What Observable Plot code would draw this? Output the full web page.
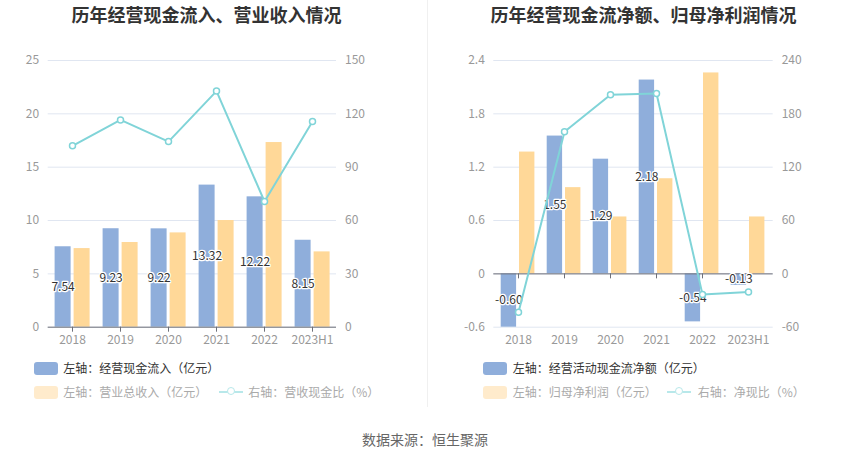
<!DOCTYPE html>
<html>
<head>
<meta charset="utf-8">
<script src="https://cdn.jsdelivr.net/npm/d3@7"></script>
<script src="https://cdn.jsdelivr.net/npm/@observablehq/plot@0.6"></script>
<style>
  html, body { margin: 0; padding: 0; background: #fff; }
  body { width: 850px; height: 459px; position: relative; overflow: hidden;
         font-family: "Noto Sans CJK SC", "Noto Sans", sans-serif; }
  .abs { position: absolute; }
  .title { font-size: 18px; font-weight: bold; color: #333; white-space: nowrap;
           transform: translate(-50%, -50%); top: 14px; }
  .chart svg { display: block; }
  .lg-text { font-size: 12px; white-space: nowrap; transform: translateY(-50%); line-height: 1; }
  .lg-rect { width: 24px; height: 13px; border-radius: 3px; }
</style>
</head>
<body>
<script>
// ---------- data ----------
const categories = ["2018", "2019", "2020", "2021", "2022", "2023H1"];

// Left chart
const cashInflow = [7.54, 9.23, 9.22, 13.32, 12.22, 8.15];      // 经营现金流入 (亿元)
const revenue = [7.37, 7.94, 8.84, 10.0, 17.31, 7.06];          // 营业总收入 (亿元)
const cashRevenueRatio = [102.0, 116.6, 104.4, 132.8, 70.7, 115.7]; // 营收现金比 (%)
const leftTicksL = [0, 5, 10, 15, 20, 25];
const leftTicksR = [0, 30, 60, 90, 120, 150];

// Right chart
const netCashFlow = [-0.60, 1.55, 1.29, 2.18, -0.54, -0.13];    // 经营活动现金流净额 (亿元)
const netProfit = [1.37, 0.97, 0.64, 1.07, 2.26, 0.64];         // 归母净利润 (亿元)
const netCashRatio = [-43.1, 159.8, 201.4, 202.9, -23.3, -20.3]; // 净现比 (%)
const rightTicksL = [-0.6, 0, 0.6, 1.2, 1.8, 2.4];
const rightTicksR = [-60, 0, 60, 120, 180, 240];

// ---------- styles ----------
const BLUE = "#8FAEDB", ORANGE = "#FFD898", TEAL = "#80D4D8";
const GRID = "#E0E6F1", AXIS = "#6E7079", LABEL = "#999";
const FONT = '"Noto Sans CJK SC", "Noto Sans", sans-serif';

const leftData = categories.map((c, i) => ({cat: c, a: cashInflow[i], b: revenue[i], r: cashRevenueRatio[i]}));
const rightData = categories.map((c, i) => ({cat: c, a: netCashFlow[i], b: netProfit[i], r: netCashRatio[i]}));

function fmt(v) { return String(v); }

function barChart(data, opts) {
  return Plot.plot({
    width: 425, height: 350,
    marginTop: 60, marginBottom: 23.3,
    marginLeft: opts.ml, marginRight: opts.mr,
    style: {fontFamily: FONT, background: "transparent", overflow: "visible"},
    x: {type: "band", domain: categories, padding: 0, axis: null},
    y: {domain: opts.yDomain, axis: null},
    marks: [
      Plot.ruleY(opts.ticks, {stroke: GRID, strokeWidth: 1}),
      Plot.axisY(opts.ticks, {anchor: "left", tickSize: 0, tickPadding: 9, fontSize: 12,
        color: LABEL, tickFormat: fmt, label: null}),
      Plot.axisX({anchor: "bottom", tickSize: 0, tickPadding: 8.5, fontSize: 12,
        color: LABEL, label: null}),
      Plot.barY(data, {x: "cat", y: "a", fill: BLUE, insetLeft: opts.aL, insetRight: opts.aR}),
      Plot.barY(data, {x: "cat", y: "b", fill: ORANGE, insetLeft: opts.bL, insetRight: opts.bR}),
      Plot.ruleY([0], {stroke: AXIS, strokeWidth: 1}),
      Plot.ruleX(data, {x: "cat", y1: () => 0, y2: () => 0, insetBottom: -5, stroke: AXIS}),
      Plot.text(data, {x: "cat", y: d => d.a / 2, text: d => d.a.toFixed(2), dx: opts.labDx,
        fill: "#333", stroke: "white", strokeWidth: 2.5, fontSize: 12, paintOrder: "stroke"})
    ]
  });
}

function lineChart(data, opts) {
  return Plot.plot({
    width: 425, height: 350,
    marginTop: 60, marginBottom: 23.3,
    marginLeft: opts.ml, marginRight: opts.mr,
    style: {fontFamily: FONT, background: "transparent", overflow: "visible"},
    x: {type: "band", domain: categories, padding: 0, axis: null},
    y: {domain: opts.yDomain, axis: null},
    marks: [
      Plot.axisY(opts.ticks, {anchor: "right", tickSize: 0, tickPadding: 8.5, fontSize: 12,
        color: LABEL, tickFormat: fmt, label: null}),
      Plot.lineY(data, {x: "cat", y: "r", stroke: TEAL, strokeWidth: 2}),
      Plot.dot(data, {x: "cat", y: "r", r: 3, fill: "white", stroke: TEAL, strokeWidth: 1.5})
    ]
  });
}

function addDiv(cls, styleObj, html) {
  const d = document.createElement("div");
  d.className = cls;
  Object.assign(d.style, styleObj);
  if (html !== undefined) d.innerHTML = html;
  document.body.appendChild(d);
  return d;
}

// separator
addDiv("abs", {left: "427px", top: "0px", width: "1px", height: "407px", background: "#F0F0F0"});

// titles
addDiv("abs title", {left: "206.5px"}, "历年经营现金流入、营业收入情况");
addDiv("abs title", {left: "643.5px"}, "历年经营现金流净额、归母净利润情况");

// left chart
const L1 = addDiv("abs chart", {left: "0px", top: "0px"});
L1.appendChild(barChart(leftData, {ml: 47.7, mr: 89, yDomain: [0, 25], ticks: leftTicksL,
  aL: 6.6, aR: 25.4, bL: 25.6, bR: 6.4, labDx: -9.4}));
const L2 = addDiv("abs chart", {left: "0px", top: "0px"});
L2.appendChild(lineChart(leftData, {ml: 47.7, mr: 89, yDomain: [0, 150], ticks: leftTicksR}));

// right chart
const R1 = addDiv("abs chart", {left: "425px", top: "0px"});
R1.appendChild(barChart(rightData, {ml: 68.3, mr: 77.3, yDomain: [-0.6, 2.4], ticks: rightTicksL,
  aL: 5.7, aR: 24.9, bL: 24.0, bR: 6.6, labDx: -9.7}));
const R2 = addDiv("abs chart", {left: "425px", top: "0px"});
R2.appendChild(lineChart(rightData, {ml: 68.3, mr: 77.3, yDomain: [-60, 240], ticks: rightTicksR}));

// legends
function legendRect(x, y, color) {
  addDiv("abs lg-rect", {left: x + "px", top: (y - 6.5) + "px", background: color});
}
function legendText(x, y, text, color) {
  addDiv("abs lg-text", {left: x + "px", top: y + "px", color: color}, text);
}
function legendLine(x, y) {
  addDiv("abs", {left: x + "px", top: (y - 1) + "px", width: "24px", height: "2px", background: "#B8E8EA"});
  addDiv("abs", {left: (x + 8) + "px", top: (y - 5) + "px", width: "6px", height: "6px",
    border: "1.5px solid #B8E8EA", borderRadius: "50%", background: "#fff"});
}
const LEG_BLUE = BLUE, LEG_ORANGE = "#FFEBCC";
// left
legendRect(34, 368, LEG_BLUE);
legendText(63.3, 368, "左轴：经营现金流入（亿元）", "#333");
legendRect(34, 392, LEG_ORANGE);
legendText(63.3, 392, "左轴：营业总收入（亿元）", "#aaa");
legendLine(219.3, 392);
legendText(248.3, 392, "右轴：营收现金比（%）", "#aaa");
// right
legendRect(482.7, 368, LEG_BLUE);
legendText(512.7, 368, "左轴：经营活动现金流净额（亿元）", "#333");
legendRect(482.7, 392, LEG_ORANGE);
legendText(512.7, 392, "左轴：归母净利润（亿元）", "#aaa");
legendLine(667.3, 392);
legendText(697.7, 392, "右轴：净现比（%）", "#aaa");

// source
addDiv("abs", {left: "425px", top: "439px", transform: "translate(-50%, -50%)", fontSize: "14px",
  color: "#666", whiteSpace: "nowrap"}, "数据来源：恒生聚源");
</script>
</body>
</html>
